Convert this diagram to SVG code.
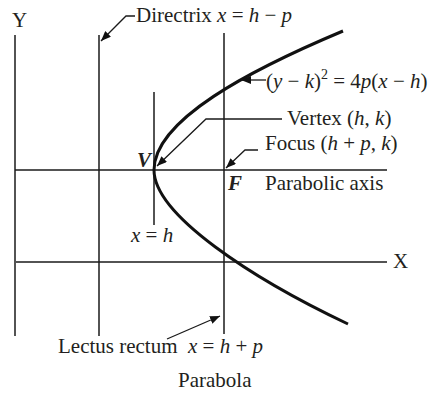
<svg xmlns="http://www.w3.org/2000/svg" width="428" height="393" viewBox="0 0 428 393">
<style>
.ln{stroke:#1a1a1a;stroke-width:1.5;fill:none}
.ld{stroke:#1a1a1a;stroke-width:1.3;fill:none}
.cv{stroke:#111;stroke-width:3;fill:none}
text{font-family:"Liberation Serif","Times New Roman",serif;font-size:21px;fill:#231f20}
.i{font-style:italic}
.b{font-weight:bold;font-style:italic}
</style>
<defs>
<marker id="arr" markerUnits="userSpaceOnUse" markerWidth="10" markerHeight="8" refX="10" refY="4" orient="auto">
<path d="M0,0 L10,4 L0,8 z" fill="#111"/>
</marker>
</defs>
<rect width="428" height="393" fill="#fff"/>
<g id="axes">
<line class="ln" x1="15" y1="35" x2="15" y2="336"/>
<line class="ln" x1="16" y1="262" x2="387" y2="262"/>
<line class="ln" x1="99" y1="35" x2="99" y2="336"/>
<line class="ln" x1="224" y1="33" x2="224" y2="334"/>
<line class="ln" x1="154" y1="92" x2="154" y2="225"/>
<line class="ln" x1="15" y1="170" x2="387" y2="170"/>
</g>
<g id="parabola">
<path class="cv" d="M343,31 C250,70 154,120 154,170 C154,215 253,279 348,324"/>
</g>
<g id="connectors">
<polyline class="ld" points="135,16 126,16 101,41" marker-end="url(#arr)"/>
<line class="ld" x1="266" y1="80" x2="241" y2="80" marker-end="url(#arr)"/>
<polyline class="ld" points="282,119 206,119 157,166" marker-end="url(#arr)"/>
<polyline class="ld" points="258,150 245,150 226,168" marker-end="url(#arr)"/>
<line class="ld" x1="167" y1="339" x2="220" y2="316" marker-end="url(#arr)"/>
</g>
<g id="labels">
<text id="lbl-y" x="12" y="27">Y</text>
<text id="lbl-x" x="393" y="268">X</text>
<text id="lbl-directrix" x="136" y="22">Directrix <tspan class="i">x</tspan> = <tspan class="i">h</tspan> − <tspan class="i">p</tspan></text>
<text id="lbl-eq" x="266" y="88">(<tspan class="i">y</tspan> − <tspan class="i">k</tspan>)<tspan font-size="14" dy="-9">2</tspan><tspan dy="9"> = 4</tspan><tspan class="i">p</tspan>(<tspan class="i">x</tspan> − <tspan class="i">h</tspan>)</text>
<text id="lbl-vertex" x="287" y="125">Vertex (<tspan class="i">h</tspan>, <tspan class="i">k</tspan>)</text>
<text id="lbl-focus" x="265" y="150">Focus (<tspan class="i">h</tspan> + <tspan class="i">p</tspan>, <tspan class="i">k</tspan>)</text>
<text id="lbl-V" class="b" x="137" y="167">V</text>
<text id="lbl-F" class="b" x="228" y="190">F</text>
<text id="lbl-axis" x="265" y="190">Parabolic axis</text>
<text id="lbl-xh" class="i" x="131" y="242">x<tspan font-style="normal"> = </tspan>h</text>
<text id="lbl-lectus" x="58" y="353" font-size="20">Lectus rectum<tspan class="i" x="188">x</tspan> = <tspan class="i">h</tspan> + <tspan class="i">p</tspan></text>
<text id="lbl-title" x="178" y="387" font-size="23">Parabola</text>
</g>
</svg>
